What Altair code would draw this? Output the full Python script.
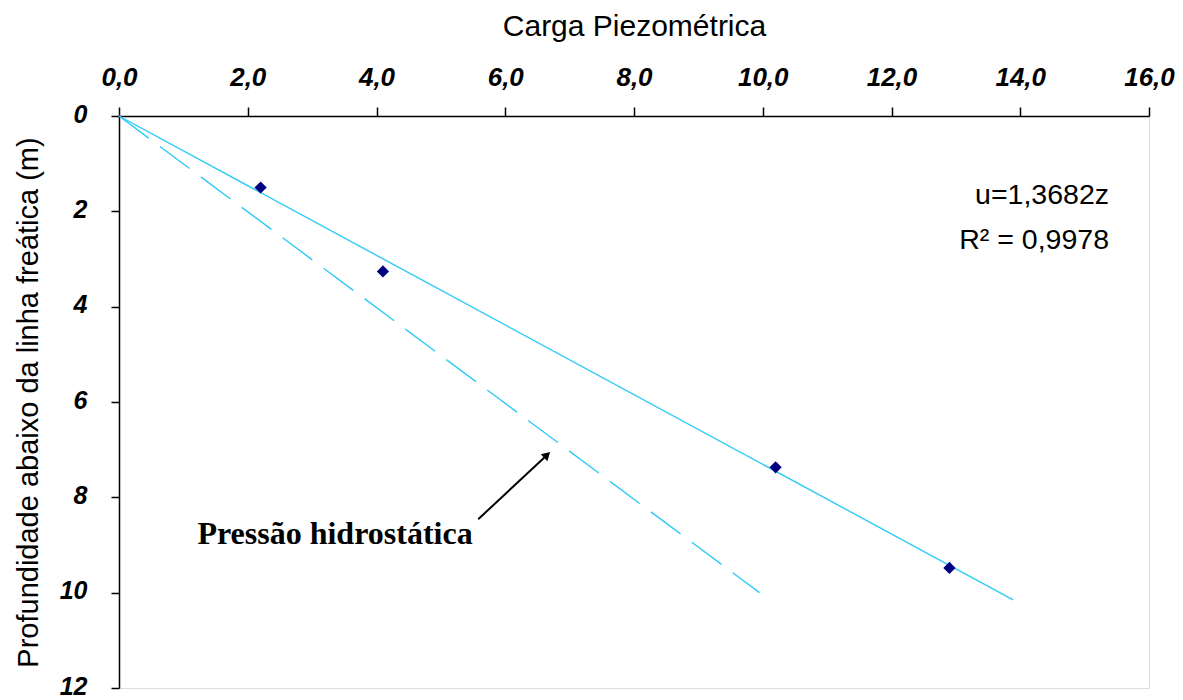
import altair as alt
import pandas as pd

# Measured points
carga = [2.2, 4.1, 10.2, 12.9]
prof = [1.5, 3.26, 7.37, 9.48]

# Fitted line u = 1,3682 z (end points)
fit_u = [0.0, 13.89]
fit_z = [0.0, 10.15]

# Hydrostatic line (end points)
hid_u = [0.0, 9.95]
hid_z = [0.0, 10.0]

# Annotation arrow (data units)
arrow_u = [5.58, 6.65]
arrow_z = [8.46, 7.11]

x_ticks = [0, 2, 4, 6, 8, 10, 12, 14, 16]
y_ticks = [0, 2, 4, 6, 8, 10, 12]

font = "Liberation Sans"

pts = pd.DataFrame({"u": carga, "z": prof})
fit = pd.DataFrame({"u": fit_u, "z": fit_z, "o": [0, 1]})
hid = pd.DataFrame({"u": hid_u, "z": hid_z, "o": [0, 1]})
arr = pd.DataFrame({"u": [arrow_u[0]], "z": [arrow_z[0]], "u2": [arrow_u[1]], "z2": [arrow_z[1]]})
head = pd.DataFrame({"u": [arrow_u[1]], "z": [arrow_z[1]]})

xs = alt.Scale(domain=[0, 16], nice=False, zero=False)
ys = alt.Scale(domain=[0, 12], reverse=True, nice=False, zero=False)

xax = alt.Axis(orient="top", values=x_ticks,
               labelExpr="replace(format(datum.value, '.1f'), '.', ',')",
               title="Carga Piezométrica", titleFontSize=30, titleFontWeight="normal",
               titleFont=font, titlePadding=23, titleColor="#000",
               labelFont=font, labelFontSize=26, labelFontWeight="bold", labelFontStyle="italic",
               labelColor="#000", labelPadding=17, tickSize=9, tickColor="#000", tickWidth=1.5,
               domainColor="#000", domainWidth=1.5, grid=False, labelFlush=False)
yax = alt.Axis(orient="left", values=y_ticks,
               title="Profundidade abaixo da linha freática (m)", titleFontSize=29,
               titleFontWeight="normal", titleFont=font, titlePadding=16, titleColor="#000",
               labelFont=font, labelFontSize=25, labelFontWeight="bold", labelFontStyle="italic",
               labelColor="#000", labelPadding=24, labelOffset=-2, tickSize=8, tickColor="#000",
               tickWidth=1.5, domainColor="#000", domainWidth=1.5, grid=False, labelFlush=False)

cyan = "#2ECBF7"

hid_line = alt.Chart(hid).mark_line(color=cyan, strokeWidth=1.4, strokeDash=[37, 14]).encode(
    x=alt.X("u:Q", scale=xs, axis=xax), y=alt.Y("z:Q", scale=ys, axis=yax), order="o:O")
fit_line = alt.Chart(fit).mark_line(color=cyan, strokeWidth=1.4).encode(
    x=alt.X("u:Q", scale=xs, axis=xax), y=alt.Y("z:Q", scale=ys, axis=yax), order="o:O")
points = alt.Chart(pts).mark_point(shape="diamond", filled=True, color="#000080", size=150, opacity=1).encode(
    x=alt.X("u:Q", scale=xs), y=alt.Y("z:Q", scale=ys))
arrow = alt.Chart(arr).mark_rule(color="#000", strokeWidth=2).encode(
    x=alt.X("u:Q", scale=xs), y=alt.Y("z:Q", scale=ys), x2="u2:Q", y2="z2:Q")
arrow_head = alt.Chart(head).mark_point(shape="triangle-up", filled=True, color="#000", size=90,
                                        angle=47, opacity=1).encode(
    x=alt.X("u:Q", scale=xs), y=alt.Y("z:Q", scale=ys))
label = alt.Chart(pd.DataFrame({"t": ["Pressão hidrostática"]})).mark_text(
    font="Liberation Serif", fontSize=32, fontWeight="bold", color="#000", align="center", baseline="middle"
).encode(text="t:N", x=alt.value(216), y=alt.value(418))
eq = alt.Chart(pd.DataFrame({"t": ["u=1,3682z", "R² = 0,9978"], "yy": [79, 124]})).mark_text(
    font=font, fontSize=28.5, color="#000", align="right", baseline="middle"
).encode(text="t:N", x=alt.value(990), y=alt.Y("yy:Q", scale=None))

chart = alt.layer(hid_line, fit_line, points, arrow, arrow_head, label, eq).properties(
    width=1030, height=572,
    autosize=alt.AutoSizeParams(type="none"),
    padding={"left": 111, "top": 108, "right": 26, "bottom": 14},
).configure_view(stroke="#888888", strokeWidth=1).configure(background="white")

chart.save("out.html", embed_options={"renderer": "svg", "actions": False})
